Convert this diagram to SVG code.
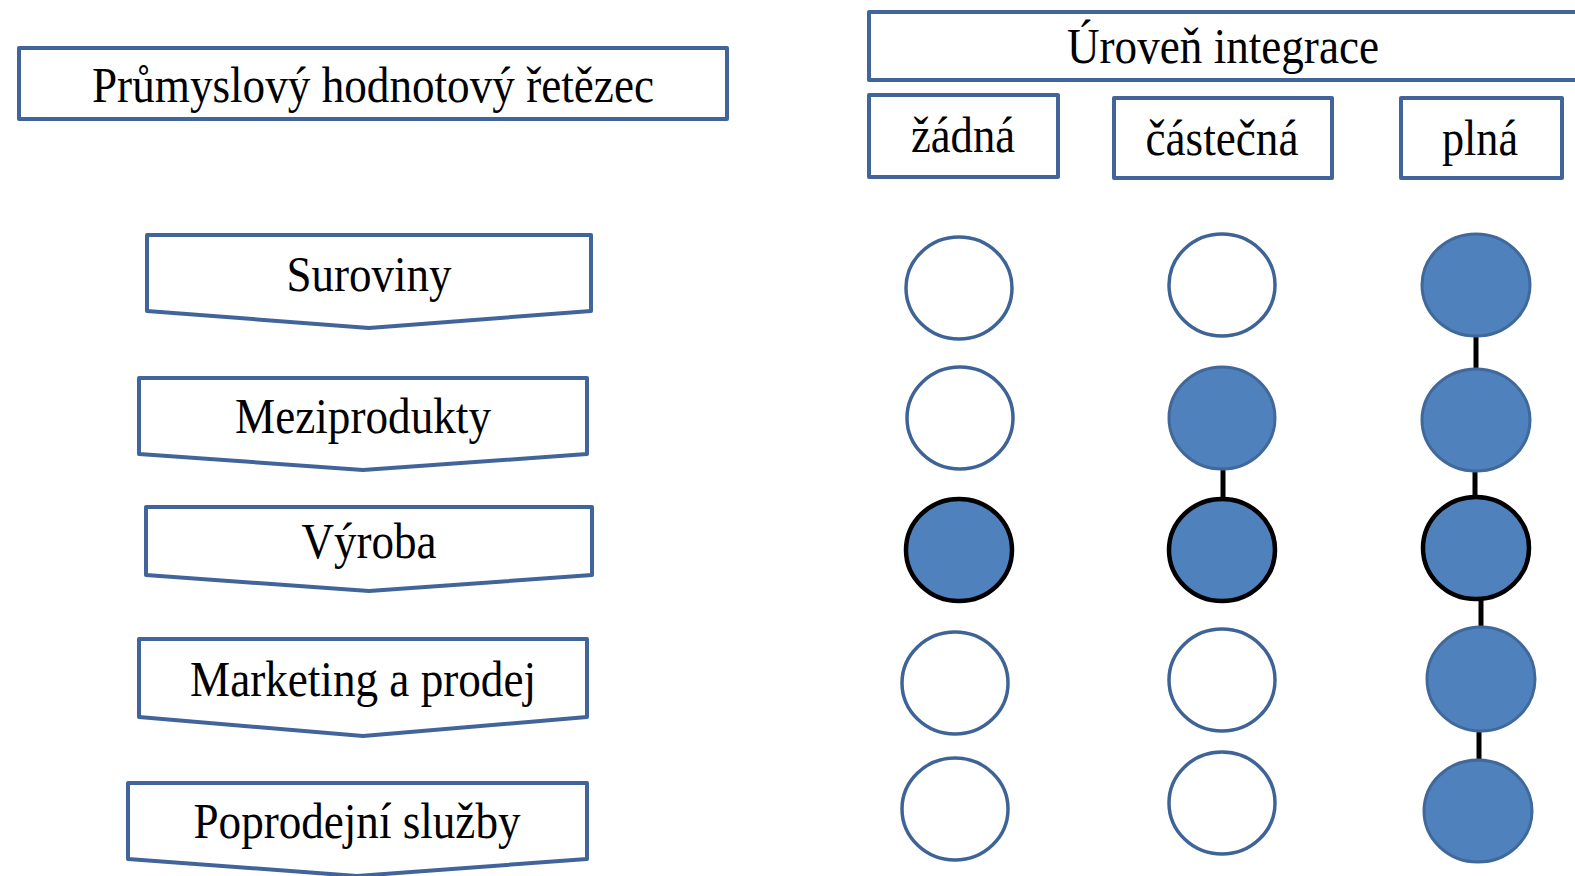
<svg xmlns="http://www.w3.org/2000/svg" width="1575" height="876" viewBox="0 0 1575 876">
<style>
.box{fill:#fff;stroke:#41659A;stroke-width:4;stroke-linejoin:round}
.lbl{font-family:"Liberation Serif","Times New Roman",serif;font-size:50px;fill:#000;text-anchor:middle}
.open{fill:#fff;stroke:#3E6497;stroke-width:3.5}
.full{fill:#4F81BD;stroke:#41689A;stroke-width:3}
.blk{fill:#4F81BD;stroke:#000;stroke-width:4.5}
.con{stroke:#000;stroke-width:5;fill:none}
</style>
<rect width="1575" height="876" fill="#fff"/>
<g id="chain-title">
<rect class="box" x="19" y="48" width="708" height="71"/>
<text class="lbl" x="373" y="102" textLength="562" lengthAdjust="spacingAndGlyphs">Průmyslový hodnotový řetězec</text>
</g>
<g id="level-title">
<rect class="box" x="869" y="12" width="720" height="68"/>
<text class="lbl" x="1223" y="63" textLength="312" lengthAdjust="spacingAndGlyphs">Úroveň integrace</text>
</g>
<g id="level-none">
<rect class="box" x="869" y="95" width="189" height="82"/>
<text class="lbl" x="963" y="152" textLength="104" lengthAdjust="spacingAndGlyphs">žádná</text>
</g>
<g id="level-partial">
<rect class="box" x="1114" y="98" width="218" height="80"/>
<text class="lbl" x="1222" y="155" textLength="153" lengthAdjust="spacingAndGlyphs">částečná</text>
</g>
<g id="level-full">
<rect class="box" x="1401" y="98" width="161" height="80"/>
<text class="lbl" x="1480" y="155" textLength="76" lengthAdjust="spacingAndGlyphs">plná</text>
</g>
<g id="suroviny">
<path class="box" d="M147,235 H591 V311 L369,328 L147,311 Z"/>
<text class="lbl" x="369" y="291" textLength="165" lengthAdjust="spacingAndGlyphs">Suroviny</text>
</g>
<g id="meziprodukty">
<path class="box" d="M139,378 H587 V454 L363,470 L139,454 Z"/>
<text class="lbl" x="363" y="433" textLength="256" lengthAdjust="spacingAndGlyphs">Meziprodukty</text>
</g>
<g id="vyroba">
<path class="box" d="M146,507 H592 V575 L369,591 L146,575 Z"/>
<text class="lbl" x="369" y="558" textLength="135" lengthAdjust="spacingAndGlyphs">Výroba</text>
</g>
<g id="marketing">
<path class="box" d="M139,639 H587 V717 L363,736 L139,717 Z"/>
<text class="lbl" x="363" y="696" textLength="346" lengthAdjust="spacingAndGlyphs">Marketing a prodej</text>
</g>
<g id="poprodejni">
<path class="box" d="M128,783 H587 V859 L357,876 L128,859 Z"/>
<text class="lbl" x="357" y="838" textLength="327" lengthAdjust="spacingAndGlyphs">Poprodejní služby</text>
</g>
<g id="connectors">
<line class="con" x1="1223" y1="468" x2="1223" y2="501"/>
<line class="con" x1="1476" y1="334" x2="1476" y2="370"/>
<line class="con" x1="1475" y1="470" x2="1475" y2="498"/>
<line class="con" x1="1481" y1="599" x2="1481" y2="628"/>
<line class="con" x1="1479" y1="729" x2="1479" y2="761"/>
</g>
<g id="col-none">
<ellipse id="n1" class="open" cx="959" cy="288" rx="53" ry="51"/>
<ellipse id="n2" class="open" cx="960" cy="418" rx="53" ry="51"/>
<ellipse id="n3" class="blk" cx="959" cy="550" rx="53" ry="51"/>
<ellipse id="n4" class="open" cx="955" cy="683" rx="53" ry="51"/>
<ellipse id="n5" class="open" cx="955" cy="809" rx="53" ry="51"/>
</g>
<g id="col-partial">
<ellipse id="p1" class="open" cx="1222" cy="285" rx="53" ry="51"/>
<ellipse id="p2" class="full" cx="1222" cy="418" rx="53" ry="51"/>
<ellipse id="p3" class="blk" cx="1222" cy="550" rx="53" ry="51"/>
<ellipse id="p4" class="open" cx="1222" cy="680" rx="53" ry="51"/>
<ellipse id="p5" class="open" cx="1222" cy="803" rx="53" ry="51"/>
</g>
<g id="col-full">
<ellipse id="f1" class="full" cx="1476" cy="285" rx="54" ry="51"/>
<ellipse id="f2" class="full" cx="1476" cy="420" rx="54" ry="51"/>
<ellipse id="f3" class="blk" cx="1476" cy="548" rx="53" ry="51"/>
<ellipse id="f4" class="full" cx="1481" cy="679" rx="54" ry="52"/>
<ellipse id="f5" class="full" cx="1478" cy="811" rx="54" ry="51"/>
</g>
</svg>
